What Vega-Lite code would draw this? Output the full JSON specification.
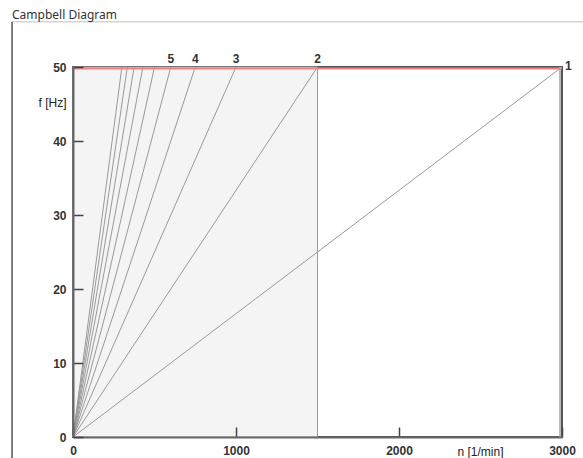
{
  "$schema": "https://vega.github.io/schema/vega-lite/v6.json",
  "autosize": {"type": "none"},
  "padding": {"left": 73, "top": 67, "right": 21, "bottom": 21},
  "width": 489,
  "height": 370,
  "background": "#ffffff",
  "title": {
    "text": "Campbell Diagram",
    "anchor": "start",
    "frame": "group",
    "dx": -61,
    "offset": -1,
    "font": "Noto Sans",
    "fontSize": 12,
    "fontWeight": "normal",
    "color": "#333333"
  },
  "datasets": {
    "orders": [
      {"k": 1, "n": 0, "f": 0}, {"k": 1, "n": 3000, "f": 50},
      {"k": 2, "n": 0, "f": 0}, {"k": 2, "n": 1500, "f": 50},
      {"k": 3, "n": 0, "f": 0}, {"k": 3, "n": 1000, "f": 50},
      {"k": 4, "n": 0, "f": 0}, {"k": 4, "n": 750, "f": 50},
      {"k": 5, "n": 0, "f": 0}, {"k": 5, "n": 600, "f": 50},
      {"k": 6, "n": 0, "f": 0}, {"k": 6, "n": 500, "f": 50},
      {"k": 7, "n": 0, "f": 0}, {"k": 7, "n": 428.6, "f": 50},
      {"k": 8, "n": 0, "f": 0}, {"k": 8, "n": 375, "f": 50},
      {"k": 9, "n": 0, "f": 0}, {"k": 9, "n": 333.3, "f": 50},
      {"k": 10, "n": 0, "f": 0}, {"k": 10, "n": 300, "f": 50}
    ],
    "range": [
      {"n_min": 0, "n_max": 1500, "f_min": 0, "f_max": 50}
    ]
  },
  "layer": [
    {
      "data": {"name": "range"},
      "mark": {"type": "rect", "fill": "#f4f4f4", "stroke": "#999999", "strokeWidth": 1},
      "encoding": {
        "x": {
          "field": "n_min",
          "type": "quantitative",
          "scale": {"domain": [0, 3000], "nice": false},
          "axis": {
            "zindex": 1,
            "values": [0, 1000, 2000, 3000],
            "format": "d",
            "title": "n [1/min]",
            "titleX": 407,
            "titleY": 9,
            "titleAlign": "center",
            "titleBaseline": "top"
          }
        },
        "x2": {"field": "n_max"},
        "y": {
          "field": "f_min",
          "type": "quantitative",
          "scale": {"domain": [0, 50], "nice": false},
          "axis": {
            "zindex": 1,
            "values": [0, 10, 20, 30, 40, 50],
            "format": "d",
            "title": "f [Hz]",
            "titleAngle": 0,
            "titleX": -7,
            "titleY": 35,
            "titleAlign": "right",
            "titleBaseline": "middle"
          }
        },
        "y2": {"field": "f_max"}
      }
    },
    {
      "data": {"values": [{}]},
      "mark": {"type": "rule", "color": "#d4d4d4", "strokeWidth": 1.5},
      "encoding": {
        "x": {"datum": -374, "type": "quantitative"},
        "x2": {"datum": 3200},
        "y": {"datum": 56.1, "type": "quantitative"}
      }
    },
    {
      "data": {"values": [{}]},
      "mark": {"type": "rule", "color": "#555555", "strokeWidth": 1.5},
      "encoding": {
        "x": {"datum": -374, "type": "quantitative"},
        "y": {"datum": 56.1, "type": "quantitative"},
        "y2": {"datum": -3}
      }
    },
    {
      "data": {"name": "orders"},
      "mark": {"type": "line", "color": "#999999", "strokeWidth": 1},
      "encoding": {
        "x": {"field": "n", "type": "quantitative"},
        "y": {"field": "f", "type": "quantitative"},
        "detail": {"field": "k"}
      }
    },
    {
      "data": {"values": [{}]},
      "mark": {"type": "rule", "color": "#bbbbbb", "strokeWidth": 2, "xOffset": -2},
      "encoding": {
        "x": {"datum": 3000, "type": "quantitative"}
      }
    },
    {
      "data": {"values": [{}]},
      "mark": {"type": "rule", "color": "#f08080", "strokeWidth": 2, "yOffset": 1.5},
      "encoding": {
        "y": {"datum": 50, "type": "quantitative"}
      }
    },
    {
      "data": {"name": "orders"},
      "transform": [{"filter": "datum.f == 50 && datum.k >= 2 && datum.k <= 5"}],
      "mark": {"type": "text", "font": "Liberation Sans", "fontSize": 12, "fontWeight": "bold", "color": "#333333", "align": "center", "baseline": "alphabetic", "dy": -4},
      "encoding": {
        "x": {"field": "n", "type": "quantitative"},
        "y": {"field": "f", "type": "quantitative"},
        "text": {"field": "k"}
      }
    },
    {
      "data": {"name": "orders"},
      "transform": [{"filter": "datum.f == 50 && datum.k == 1"}],
      "mark": {"type": "text", "font": "Liberation Sans", "fontSize": 12, "fontWeight": "bold", "color": "#333333", "align": "left", "baseline": "middle", "dx": 3, "dy": -1},
      "encoding": {
        "x": {"field": "n", "type": "quantitative"},
        "y": {"field": "f", "type": "quantitative"},
        "text": {"field": "k"}
      }
    }
  ],
  "config": {
    "view": {"stroke": "#555555", "strokeWidth": 2},
    "axis": {
      "grid": false,
      "tickSize": -10,
      "tickColor": "#444444",
      "tickWidth": 1.5,
      "domainColor": "#666666",
      "domainWidth": 2,
      "labelFont": "Liberation Sans",
      "labelFontSize": 12,
      "labelFontWeight": "bold",
      "labelColor": "#333333",
      "labelFlush": false,
      "labelOverlap": false,
      "titleFont": "Liberation Sans",
      "titleFontSize": 12,
      "titleFontWeight": "normal",
      "titleColor": "#222222"
    },
    "axisX": {"labelPadding": 18},
    "axisY": {"labelPadding": 17}
  }
}
